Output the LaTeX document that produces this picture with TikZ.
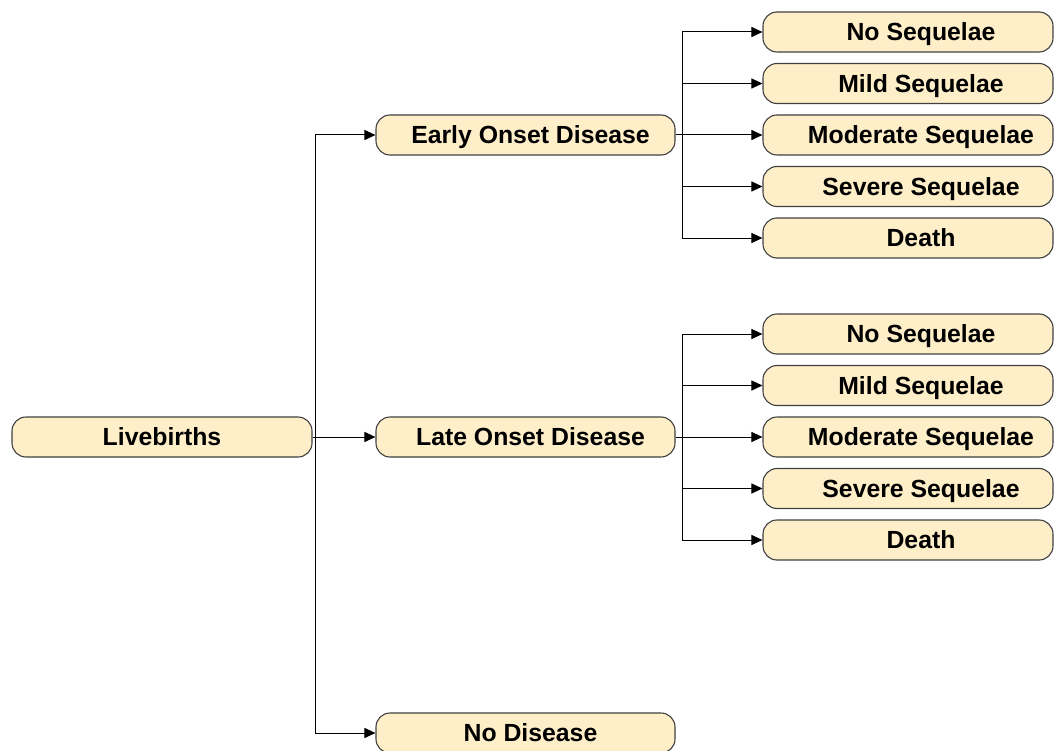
\documentclass[tikz,border=0pt]{standalone}
\usepackage{fontspec}
\setmainfont{Liberation Sans}
\usetikzlibrary{arrows.meta}
\definecolor{boxfill}{HTML}{FFEFC9}
\definecolor{boxline}{HTML}{404040}
\tikzset{
  box/.style={draw=boxline, line width=1.1pt, fill=boxfill, rounded corners=14pt,
    minimum height=40pt, inner sep=0pt, text height=17.5pt, text depth=0pt,
    font=\fontsize{24.8}{28}\bfseries\selectfont},
  leftbox/.style={box, minimum width=300pt},
  midbox/.style={box, minimum width=299pt},
  rightbox/.style={box, minimum width=290pt},
  link/.style={draw=black, line width=1pt},
  arr/.style={link, -{Triangle[length=11pt,width=10pt]}},
}
\begin{document}
\begin{tikzpicture}[x=1pt,y=-1pt]
\useasboundingbox (0,0) rectangle (1056,751);
% nodes
\node[leftbox] (lb) at (162,437) {Livebirths};
\node[midbox] (early) at (525.5,135) {\hspace*{10pt}Early Onset Disease};
\node[midbox] (late) at (525.5,437) {\hspace*{10pt}Late Onset Disease};
\node[midbox] (nodis) at (525.5,733) {\hspace*{10pt}No Disease};
\node[rightbox] (e1) at (908,32) {\hspace*{26pt}No Sequelae};
\node[rightbox] (e2) at (908,83.5) {\hspace*{26pt}Mild Sequelae};
\node[rightbox] (e3) at (908,135) {\hspace*{26pt}Moderate Sequelae};
\node[rightbox] (e4) at (908,186.5) {\hspace*{26pt}Severe Sequelae};
\node[rightbox] (e5) at (908,238) {\hspace*{26pt}Death};
\node[rightbox] (l1) at (908,334) {\hspace*{26pt}No Sequelae};
\node[rightbox] (l2) at (908,385.5) {\hspace*{26pt}Mild Sequelae};
\node[rightbox] (l3) at (908,437) {\hspace*{26pt}Moderate Sequelae};
\node[rightbox] (l4) at (908,488.5) {\hspace*{26pt}Severe Sequelae};
\node[rightbox] (l5) at (908,540) {\hspace*{26pt}Death};
% trunk
\coordinate (t1) at (315,135);
\coordinate (t2) at (315,733);
\draw[link] (t1) -- (t2);
\draw[arr] (lb.east) -- (late.west);
\draw[arr] (t1) -- (early.west);
\draw[arr] (t2) -- (nodis.west);
% early group
\coordinate (ea) at (682,32);
\coordinate (eb) at (682,238);
\draw[link] (early.east) -- (early.east -| ea);
\draw[link] (ea) -- (eb);
\foreach \n in {e1,e2,e3,e4,e5}{
  \draw[arr] (ea |- \n.west) -- (\n.west);
}
% late group
\coordinate (la) at (682,334);
\coordinate (lbb) at (682,540);
\draw[link] (late.east) -- (late.east -| la);
\draw[link] (la) -- (lbb);
\foreach \n in {l1,l2,l3,l4,l5}{
  \draw[arr] (la |- \n.west) -- (\n.west);
}
\end{tikzpicture}
\end{document}
